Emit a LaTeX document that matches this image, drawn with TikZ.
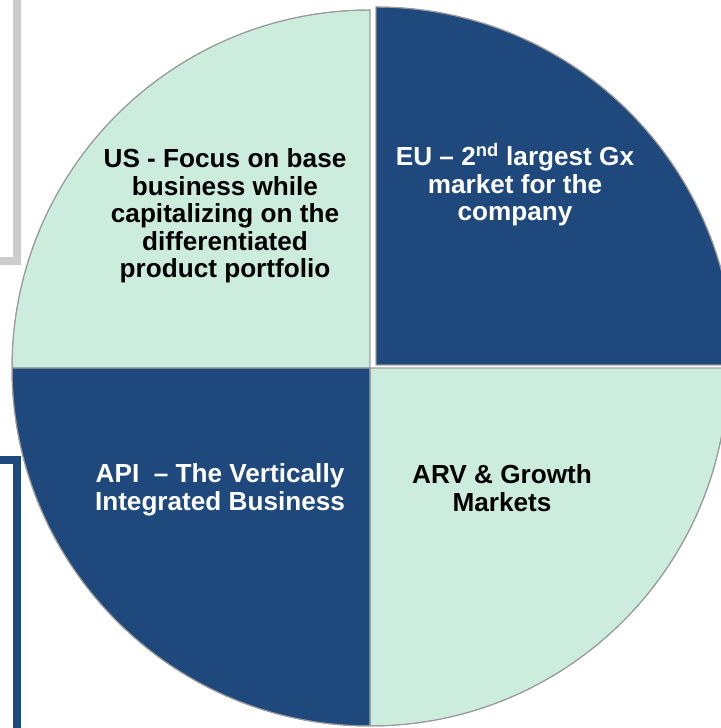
\documentclass[tikz,border=0pt]{standalone}
\usepackage{fontspec}
\setmainfont{Liberation Sans}
\usepackage{tikz}
\usetikzlibrary{positioning}

\definecolor{darkblue}{RGB}{31,73,125}
\definecolor{mint}{RGB}{204,236,221}
\definecolor{boxgray}{RGB}{204,204,204}

\tikzset{
    quadrant/.style={draw=gray!80, line width=0.7pt},
    label/.style={align=center, inner sep=0pt,
        font=\fontsize{18.6}{19.6}\selectfont\bfseries},
    frame/.style={line width=5pt}
}

\begin{document}
\begin{tikzpicture}[x=0.025cm, y=0.025cm]
    \useasboundingbox (0, 0) rectangle (721, 728);

    % Frames of the side boxes
    \draw[frame, boxgray] (-20, 467) -- (17, 467) -- (17, 760);
    \draw[frame, darkblue] (-20, 268) -- (17, 268) -- (17, -40);

    % Centre of the pie, and of the pulled-out slice
    \coordinate (c) at (370, 360);
    \coordinate (ceu) at (376, 363);

    % Four slices
    \fill[quadrant, fill=mint] (c) -- ++(180:358) arc (180:90:358) -- cycle;
    \fill[quadrant, fill=darkblue] (ceu) -- ++(90:358) arc (90:0:358) -- cycle;
    \fill[quadrant, fill=mint] (c) -- ++(0:358) arc (0:-90:358) -- cycle;
    \fill[quadrant, fill=darkblue] (c) -- ++(-90:358) arc (-90:-180:358) -- cycle;
    \draw[quadrant] (c) -- ++(180:358) arc (180:90:358) -- cycle;
    \draw[quadrant] (ceu) -- ++(90:358) arc (90:0:358) -- cycle;
    \draw[quadrant] (c) -- ++(0:358) arc (0:-90:358) -- cycle;
    \draw[quadrant] (c) -- ++(-90:358) arc (-90:-180:358) -- cycle;

    % Slice texts
    \node[label] (us) at (225, 512) {US - Focus on base\\business while\\capitalizing on the\\differentiated\\product portfolio};
    \node[label, white] (eu) at (515, 543) {EU – 2\textsuperscript{nd} largest Gx\\market for the\\company};
    \node[label, white] (api) at (220, 238) {API\ \ – The Vertically\\Integrated Business};
    \node[label] (arv) at (502, 240) {ARV \& Growth\\Markets};
\end{tikzpicture}
\end{document}
